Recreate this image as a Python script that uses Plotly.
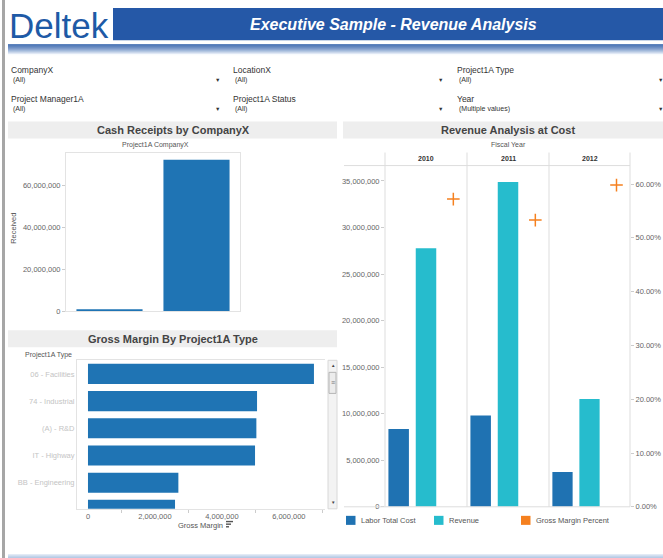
import plotly.graph_objects as go

W, H = 663, 558
FIG_H = 565
FONT = "Liberation Sans, Arial, sans-serif"


def fx(px):
    return px / W


def fy(py):
    return 1 - py / H


# ---------------- data ----------------
companies = ["CompanyX 01", "CompanyX 02"]
received = [0.9e6, 72.4e6]

project_types = ["06 - Facilities", "74 - Industrial", "(A) - R&D",
                 "IT - Highway", "BB - Engineering", "5A - Commercial"]
gross_margin = [6.75e6, 5.05e6, 5.03e6, 4.99e6, 2.70e6, 2.60e6]

fiscal_years = ["2010", "2011", "2012"]
measures = ["Labor Total Cost", "Revenue", "Gross Margin Percent"]
labor_total_cost = [8.37e6, 9.81e6, 3.74e6]
revenue = [27.78e6, 34.89e6, 11.57e6]
gross_margin_pct = [0.572, 0.533, 0.598]

rev_ticks = [0, 5e6, 10e6, 15e6, 20e6, 25e6, 30e6, 35e6]
pct_ticks = [0, 0.1, 0.2, 0.3, 0.4, 0.5, 0.6]
cash_ticks = [0, 20e6, 40e6, 60e6]
gm_ticks = [0, 2e6, 4e6, 6e6]

filter_labels = ["CompanyX", "LocationX", "Project1A Type",
                 "Project Manager1A", "Project1A Status", "Year"]
filter_values = ["(All)", "(All)", "(All)", "(All)", "(All)", "(Multiple values)"]

# ---------------- colours ----------------
C_LABOR = "#1f72b2"
C_REV = "#26bccd"
C_GM = "#f5801f"
C_BAR = "#1f74b4"
GRID = "#dddddd"
TICKC = "#666666"

fig = go.Figure()

# ---- Cash receipts ----
fig.add_trace(go.Bar(x=companies, y=received, xaxis="x4", yaxis="y4",
                     marker=dict(color=C_BAR, line=dict(width=0)), width=0.76,
                     showlegend=False))

# ---- Gross margin by type ----
fig.add_trace(go.Bar(x=gross_margin, y=project_types, orientation="h",
                     xaxis="x5", yaxis="y5",
                     marker=dict(color=C_BAR, line=dict(width=0)), width=0.74,
                     showlegend=False))

# ---- Revenue analysis at cost ----
xnames = ["x", "x2", "x3"]
for i, yr in enumerate(fiscal_years):
    fig.add_trace(go.Bar(x=[measures[0]], y=[labor_total_cost[i]], xaxis=xnames[i], yaxis="y",
                         marker=dict(color=C_LABOR, line=dict(width=0)), width=0.75,
                         name=measures[0], showlegend=False))
    fig.add_trace(go.Bar(x=[measures[1]], y=[revenue[i]], xaxis=xnames[i], yaxis="y",
                         marker=dict(color=C_REV, line=dict(width=0)), width=0.75,
                         name=measures[1], showlegend=False))
    fig.add_trace(go.Scatter(x=[measures[2]], y=[gross_margin_pct[i]], xaxis=xnames[i], yaxis="y2",
                             mode="markers",
                             marker=dict(symbol="cross-thin", size=9,
                                         line=dict(color=C_GM, width=1.5)),
                             name=measures[2], showlegend=False))

tickfont = dict(family=FONT, size=7.5, color=TICKC)

layout = dict(
    width=W, height=FIG_H, margin=dict(l=0, r=0, t=0, b=0, pad=0),
    paper_bgcolor="white", plot_bgcolor="rgba(0,0,0,0)",
    barmode="overlay", showlegend=False,
    font=dict(family=FONT),
)

# revenue year axes
year_px = [(385, 467), (467, 549), (549, 630)]
for i, xn in enumerate(xnames):
    key = "xaxis" if i == 0 else "xaxis%d" % (i + 1)
    layout[key] = dict(domain=[fx(year_px[i][0]), fx(year_px[i][1])], anchor="y",
                       type="category", categoryorder="array", categoryarray=measures,
                       range=[-0.5, 2.5], showticklabels=False, showgrid=False,
                       zeroline=False, showline=False, ticks="", fixedrange=True)
layout["yaxis"] = dict(domain=[fy(505), fy(165)], anchor="x", range=[0, 36.65e6],
                       tickvals=rev_ticks, tickformat=",d", tickfont=tickfont,
                       ticks="outside", ticklen=3, tickcolor="#cccccc",
                       showgrid=False, zeroline=False, showline=False)
layout["yaxis2"] = dict(overlaying="y", side="right", anchor="x3", range=[0, 0.6343],
                        tickvals=pct_ticks, tickformat=".2%", tickfont=tickfont,
                        ticks="outside", ticklen=3, tickcolor="#cccccc",
                        showgrid=False, zeroline=False, showline=False)

# cash receipts axes
layout["xaxis4"] = dict(domain=[fx(66), fx(240)], anchor="y4", type="category",
                        range=[-0.5, 1.5], showticklabels=False, showgrid=False,
                        zeroline=False, showline=True, mirror=True, linecolor="#e3e3e3",
                        linewidth=1, ticks="")
layout["yaxis4"] = dict(domain=[fy(310), fy(152)], anchor="x4", range=[0, 75.8e6],
                        tickvals=cash_ticks, tickformat=",d", tickfont=tickfont,
                        ticks="outside", ticklen=3, tickcolor="#cccccc",
                        showgrid=False, zeroline=False, showline=True, mirror=True,
                        linecolor="#e3e3e3", linewidth=1)

# gross margin axes
layout["xaxis5"] = dict(domain=[fx(77), fx(325)], anchor="y5", range=[-0.328e6, 7.08e6],
                        tickvals=gm_ticks, tickformat=",d", tickfont=tickfont,
                        ticks="", showgrid=False, zeroline=False,
                        showline=True, mirror=True, linecolor="#e3e3e3", linewidth=1,
                        minor=dict(tickvals=[1e6, 3e6, 5e6, 7e6], ticks="outside",
                                   ticklen=3, tickcolor="#cccccc"))
layout["yaxis5"] = dict(domain=[fy(507), fy(359)], anchor="x5", type="category",
                        categoryorder="array", categoryarray=project_types,
                        range=[4.96, -0.5], tickfont=dict(family=FONT, size=7.5, color="#c4c4c4"),
                        ticks="", showgrid=False, zeroline=False,
                        showline=True, linecolor="#e3e3e3", linewidth=1)

shapes = []
ann = []


def rect(x0, y0, x1, y1, fill, line=None, lw=0):
    shapes.append(dict(type="rect", xref="paper", yref="paper",
                       x0=fx(x0), x1=fx(x1), y0=fy(y1), y1=fy(y0),
                       fillcolor=fill, line=dict(color=line or fill, width=lw),
                       layer="below"))


def hline(x0, x1, y, color=GRID, w=1):
    shapes.append(dict(type="line", xref="paper", yref="paper",
                       x0=fx(x0), x1=fx(x1), y0=fy(y), y1=fy(y),
                       line=dict(color=color, width=w), layer="above"))


def vline(x, y0, y1, color=GRID, w=1):
    shapes.append(dict(type="line", xref="paper", yref="paper",
                       x0=fx(x), x1=fx(x), y0=fy(y0), y1=fy(y1),
                       line=dict(color=color, width=w), layer="above"))


def txt(s, x, y, size, color="#333333", xanchor="left", yanchor="middle",
        weight="normal", style="normal", angle=0):
    ann.append(dict(text=s, x=fx(x), y=fy(y), xref="paper", yref="paper",
                    xanchor=xanchor, yanchor=yanchor, showarrow=False,
                    textangle=angle,
                    font=dict(family=FONT, size=size, color=color,
                              weight=weight, style=style)))


# page frame
rect(2, 0, 5, 558, "#a6a6a6")
# banner
rect(113, 8, 663, 40, "#2558a7")
txt("Deltek", 59, 25, 35, color="#1e5aa6")
ann[-1]["xanchor"] = "center"
txt("Executive Sample - Revenue Analysis", 393, 24, 16, color="white",
    xanchor="center", weight="bold", style="italic")
# gradient strip under banner
top = (38, 88, 166)
bot = (248, 251, 255)
n = 11
for k in range(n):
    t = (k / (n - 1)) ** 1.4
    c = tuple(int(round(top[j] + (bot[j] - top[j]) * t)) for j in range(3))
    rect(8, 44 + k, 663, 45 + k, "rgb(%d,%d,%d)" % c)
# bottom strip
for k, c in enumerate(["#e2eaf5", "#d2dff0", "#c3d4ea", "#b6cbe5", "#adc4e1", "#a6bfde"]):
    rect(8, 552 + k, 663, 553 + k, c)

# filters
fcols = [9, 231, 455]
arrow_x = [217, 440, 660]
for i, (lab, val) in enumerate(zip(filter_labels, filter_values)):
    col = fcols[i % 3]
    ly = 70 if i < 3 else 98.5
    vy = 80 if i < 3 else 109
    txt(lab, col, ly, 8.5, color="#333333")
    txt(val, col + 2, vy, 7, color="#333333")
    txt("▼", arrow_x[i % 3], vy, 5.5, color="#333333", xanchor="center")

# panel headers
rect(8, 121, 337, 138, "#eeeeee")
txt("Cash Receipts by CompanyX", 173, 129.5, 11, color="#444444", xanchor="center", weight="bold")
rect(343, 121, 663, 138, "#eeeeee")
txt("Revenue Analysis at Cost", 508, 129.5, 11, color="#444444", xanchor="center", weight="bold")
rect(8, 329, 337, 346, "#eeeeee")
txt("Gross Margin By Project1A Type", 173, 337.5, 11, color="#444444", xanchor="center", weight="bold")

# cash receipts labels
txt("Project1A CompanyX", 155, 144, 7, color="#555555", xanchor="center")
txt("Received", 14, 228, 7.5, color="#555555", xanchor="center", angle=-90)

# gross margin labels
txt("Project1A Type", 23, 354, 7, color="#555555")
txt("Gross Margin", 201, 524, 7.5, color="#555555", xanchor="center")
rect(226, 519, 233, 520.4, "#555555")
rect(226, 521.6, 231, 523, "#555555")
rect(226, 524.2, 229, 525.6, "#555555")
# scrollbar
rect(328, 359, 337, 507, "#f3f3f3", "#d8d8d8", 1)
rect(329, 371, 336, 392, "#ececec", "#b5b5b5", 1)
txt("▲", 332.5, 364, 4.5, color="#444444", xanchor="center")
txt("▼", 332.5, 501, 4.5, color="#444444", xanchor="center")
txt("≡", 332.5, 381.5, 7, color="#777777", xanchor="center")

# revenue panel frame
txt("Fiscal Year", 508, 144, 7, color="#555555", xanchor="center")
for (a, b), yr in zip(year_px, fiscal_years):
    txt(yr, (a + b) / 2, 158, 7, color="#333333", xanchor="center", weight="bold")
for xv in [385, 467, 549, 630]:
    vline(xv, 152, 505)
hline(344, 630, 165)
hline(344, 630, 505)

# legend (built from series names/colours)
leg_x = [346, 434, 521]
for xv, name, col in zip(leg_x, measures, [C_LABOR, C_REV, C_GM]):
    rect(xv, 514, xv + 9.5, 523, col)
    txt(name, xv + 13, 518.5, 7.5, color="#555555")

layout["shapes"] = shapes
layout["annotations"] = ann
fig.update_layout(**layout)
fig.write_html(
    "out.html",
    config={"displayModeBar": False},
    post_script=(
        "var s=document.createElement('style');"
        "s.innerHTML='html,body{margin:0;padding:0;}';"
        "document.head.appendChild(s);"
    ),
)
